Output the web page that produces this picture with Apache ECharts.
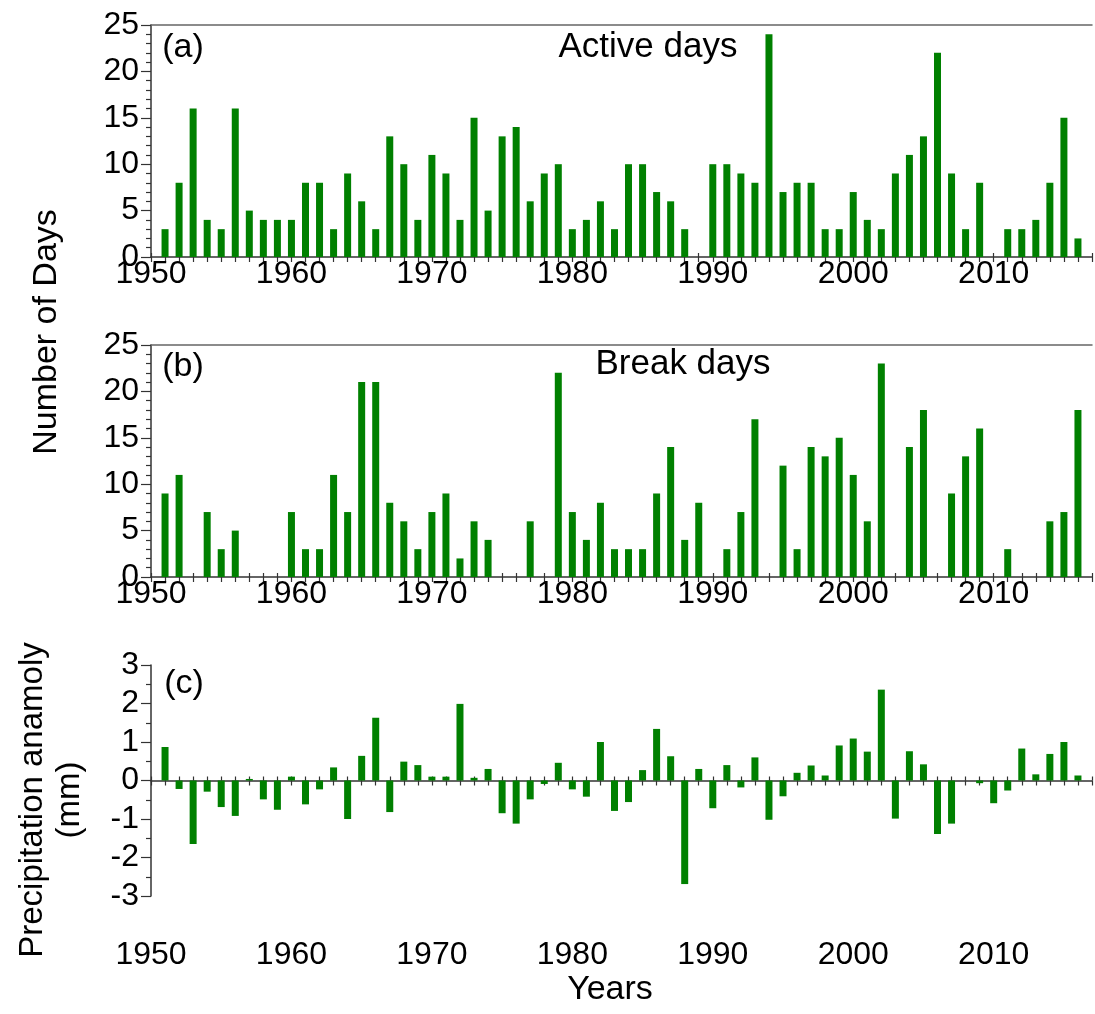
<!DOCTYPE html>
<html><head><meta charset="utf-8">
<script src="https://cdn.jsdelivr.net/npm/echarts@6/dist/echarts.min.js"></script>
<style>html,body{margin:0;padding:0;background:#fff}#c{width:1095px;height:1014px}</style>
</head><body><div id="c"></div>
<script>
const years = [1951,1952,1953,1954,1955,1956,1957,1958,1959,1960,
  1961,1962,1963,1964,1965,1966,1967,1968,1969,1970,
  1971,1972,1973,1974,1975,1976,1977,1978,1979,1980,
  1981,1982,1983,1984,1985,1986,1987,1988,1989,1990,
  1991,1992,1993,1994,1995,1996,1997,1998,1999,2000,
  2001,2002,2003,2004,2005,2006,2007,2008,2009,2010,
  2011,2012,2013,2014,2015,2016];
const activeDays = [3,8,16,4,3,16,5,4,4,4,
  8,8,3,9,6,3,13,10,4,11,
  9,4,15,5,13,14,6,9,10,3,
  4,6,3,10,10,7,6,3,0,10,
  10,9,8,24,7,8,8,3,3,7,
  4,3,9,11,13,22,9,3,8,0,
  3,3,4,8,15,2];
const breakDays = [9,11,0,7,3,5,0,0,0,7,
  3,3,11,7,21,21,8,6,3,7,
  9,2,6,4,0,0,6,0,22,7,
  4,8,3,3,3,9,14,4,8,0,
  3,7,17,0,12,3,14,13,15,11,
  6,23,0,14,18,0,9,13,16,0,
  3,0,0,6,7,18];
const precipAnomaly = [0.87,-0.22,-1.65,-0.29,-0.69,-0.92,0.04,-0.49,-0.76,0.10,
  -0.62,-0.23,0.34,-1.0,0.64,1.63,-0.82,0.49,0.40,0.10,
  0.10,1.99,0.07,0.30,-0.85,-1.12,-0.49,-0.09,0.46,-0.23,
  -0.42,1.0,-0.79,-0.56,0.27,1.34,0.63,-2.69,0.30,-0.72,
  0.40,-0.18,0.60,-1.02,-0.41,0.20,0.39,0.13,0.91,1.09,
  0.75,2.36,-0.99,0.76,0.42,-1.39,-1.12,0,-0.07,-0.59,
  -0.26,0.83,0.16,0.69,1.0,0.13];
const xTickLabels = ['1950','1960','1970','1980','1990','2000','2010'];
const daysTicks = [0,5,10,15,20,25];
const precipTicks = [-3,-2,-1,0,1,2,3];

const FONT = '"Liberation Sans", Arial, sans-serif';
const AX = '#333';
const GREEN = '#008000';
const XMIN = 1950, XMAX = 2017;

const chart = echarts.init(document.getElementById('c'));
const grids = [
  {left:151, top:25, width:947, height:232},
  {left:151, top:345, width:947, height:232},
  {left:151, top:665, width:947, height:231}
];
function xLabelFmt(v){ const s=String(v); return xTickLabels.indexOf(s)>=0 ? s : ''; }
function baseX(gi, extra){
  return Object.assign({type:'value', gridIndex:gi, min:XMIN, max:XMAX, interval:1,
    splitLine:{show:false}, axisLabel:{show:false}, axisTick:{show:false},
    axisLine:{show:false}}, extra);
}
const xAxes = [];
const yAxes = [];
for (let g=0; g<2; g++){
  xAxes.push(baseX(g,{position:'bottom',
    axisLine:{show:true, onZero:false, lineStyle:{color:AX, width:1.5}},
    axisTick:{show:true, length:5, lineStyle:{color:AX, width:1.2}},
    axisLabel:{show:true, formatter:xLabelFmt, fontSize:32, color:'#000', fontFamily:FONT, margin:1}}));
  xAxes.push(baseX(g,{position:'bottom',
    axisLine:{show:false, onZero:false},
    axisTick:{show:true, inside:true, length:4, lineStyle:{color:AX, width:1.2}}}));
  xAxes.push(baseX(g,{position:'top',
    axisLine:{show:true, onZero:false, lineStyle:{color:'#666', width:1.5}}}));
  yAxes.push({type:'value', gridIndex:g, min:daysTicks[0], max:daysTicks[daysTicks.length-1], interval:5,
    splitLine:{show:false},
    axisLine:{show:true, onZero:false, lineStyle:{color:AX, width:1.5}},
    axisTick:{show:true, length:10, lineStyle:{color:AX, width:1.2}},
    minorTick:{show:true, splitNumber:5, length:5, lineStyle:{color:AX, width:1.2}},
    axisLabel:{fontSize:32, color:'#000', fontFamily:FONT, margin:12}});
}
// panel (c): x axes
xAxes.push(baseX(2,{position:'bottom',
  axisLine:{show:true, onZero:true, onZeroAxisIndex:2, lineStyle:{color:AX, width:1.5}},
  axisTick:{show:true, length:5, lineStyle:{color:AX, width:1.2}}}));
xAxes.push(baseX(2,{position:'bottom',
  axisLine:{show:true, onZero:true, onZeroAxisIndex:3, lineStyle:{color:'rgba(0,0,0,0)', width:0}},
  axisTick:{show:true, inside:true, length:4, lineStyle:{color:AX, width:1.2}}}));
xAxes.push(baseX(2,{position:'bottom',
  axisLine:{show:false, onZero:false},
  axisLabel:{show:true, formatter:xLabelFmt, fontSize:32, color:'#000', fontFamily:FONT, margin:43}}));
yAxes.push({type:'value', gridIndex:2, min:precipTicks[0], max:precipTicks[precipTicks.length-1], interval:1,
  splitLine:{show:false},
  axisLine:{show:true, onZero:false, lineStyle:{color:AX, width:1.5}},
  axisTick:{show:true, length:10, lineStyle:{color:AX, width:1.2}},
  minorTick:{show:true, splitNumber:2, length:5, lineStyle:{color:AX, width:1.2}},
  axisLabel:{fontSize:32, color:'#000', fontFamily:FONT, margin:12}});
// hidden twin y axis for panel (c) so the inner-tick overlay can sit on zero too
yAxes.push({type:'value', gridIndex:2, min:precipTicks[0], max:precipTicks[precipTicks.length-1], interval:1,
  position:'left', show:true, splitLine:{show:false},
  axisLine:{show:false, onZero:false}, axisTick:{show:false}, axisLabel:{show:false}});

function pairs(vals){ return years.map((y,i)=>[y, vals[i]]); }
function barSeries(xi, yi, vals){
  return {type:'bar', xAxisIndex:xi, yAxisIndex:yi, data:pairs(vals), barWidth:7,
    itemStyle:{color:GREEN}, silent:true};
}
function txt(x,y,text,size,rot){
  return {type:'text', x:x, y:y, rotation:rot||0, silent:true,
    style:{text:text, fontSize:size, fontFamily:FONT, fill:'#000',
      textAlign:'center', textVerticalAlign:'middle', align:'center', verticalAlign:'middle'}};
}
chart.setOption({
  animation:false,
  backgroundColor:'#fff',
  grid:grids,
  xAxis:xAxes,
  yAxis:yAxes,
  series:[barSeries(0,0,activeDays), barSeries(3,1,breakDays), barSeries(6,2,precipAnomaly)],
  graphic:[
    txt(183,48,'(a)',34), txt(648,47,'Active days',35),
    txt(183,367,'(b)',34), txt(683,364,'Break days',35),
    txt(184,684,'(c)',34),
    txt(47,332,'Number of Days',34,Math.PI/2),
    txt(33,800,'Precipitation anamoly',33,Math.PI/2),
    txt(70,800,'(mm)',33,Math.PI/2),
    txt(610,990,'Years',34)
  ]
});
</script></body></html>
